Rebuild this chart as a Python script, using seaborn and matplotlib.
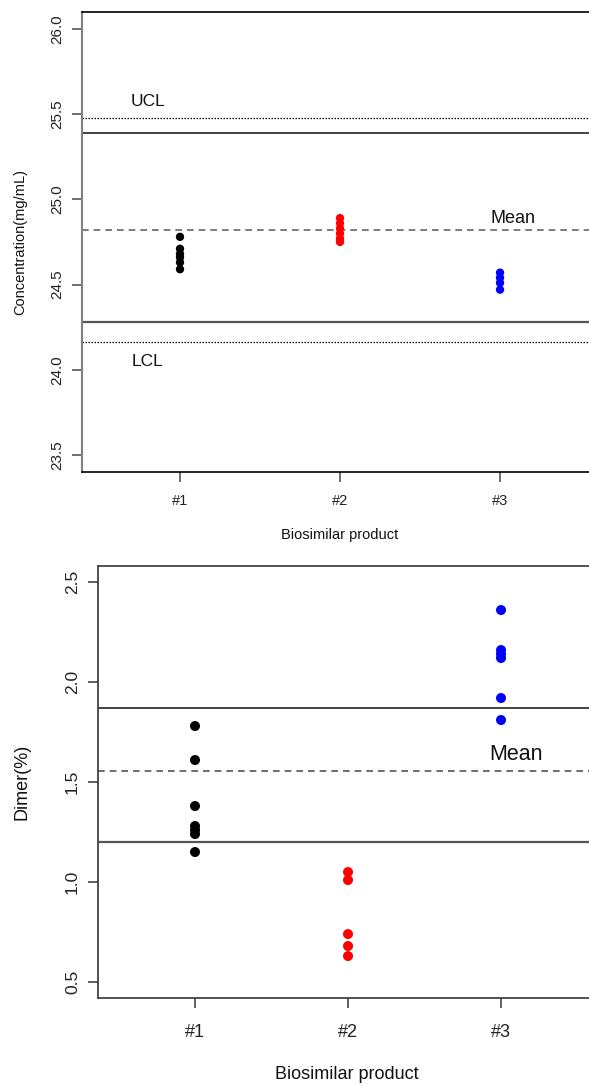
import matplotlib
matplotlib.use("Agg")
import matplotlib.pyplot as plt
import seaborn as sns
import pandas as pd

# ---- data ----
products = ["#1", "#2", "#3"]
colors = ["#000000", "#FF0000", "#0000FF"]

conc_p1 = [24.78, 24.71, 24.68, 24.66, 24.63, 24.59]
conc_p2 = [24.89, 24.86, 24.83, 24.80, 24.77, 24.75]
conc_p3 = [24.57, 24.54, 24.51, 24.47]
conc_ucl, conc_lcl = 25.476, 24.165
conc_upper, conc_lower = 25.39, 24.28
conc_mean = 24.818
conc_yticks = [23.5, 24.0, 24.5, 25.0, 25.5, 26.0]

dimer_p1 = [1.78, 1.61, 1.38, 1.28, 1.26, 1.24, 1.15]
dimer_p2 = [1.05, 1.01, 0.74, 0.68, 0.63]
dimer_p3 = [2.36, 2.16, 2.14, 2.12, 1.92, 1.81]
dimer_upper, dimer_lower = 1.868, 1.20
dimer_mean = 1.556
dimer_yticks = [0.5, 1.0, 1.5, 2.0, 2.5]


def make_df(groups):
    rows = []
    for i, (name, vals) in enumerate(zip(products, groups)):
        for v in vals:
            rows.append({"pos": i + 1, "product": name, "value": v})
    return pd.DataFrame(rows)


sns.set_style("ticks")
plt.rcParams["font.family"] = ["Liberation Sans", "DejaVu Sans"]
plt.rcParams["text.color"] = "#111111"
plt.rcParams["axes.labelcolor"] = "#111111"

fig = plt.figure(figsize=(5.89, 10.86), dpi=100)

# ---------------- top panel ----------------
ax1 = fig.add_axes([0.1392, 0.5654, 0.8608, 0.4236])
df1 = make_df([conc_p1, conc_p2, conc_p3])
sns.scatterplot(data=df1, x="pos", y="value", hue="product", palette=colors,
                s=36, linewidth=0, legend=False, ax=ax1, zorder=3)
ax1.axhline(conc_ucl, color="black", ls=(0, (1.2, 1.2)), lw=0.9)
ax1.axhline(conc_lcl, color="black", ls=(0, (1.2, 1.2)), lw=0.9)
ax1.axhline(conc_upper, color="#333333", lw=1.3)
ax1.axhline(conc_lower, color="#555555", lw=1.6)
ax1.axhline(conc_mean, color="#666666", ls=(0, (4, 3)), lw=1.2)
ax1.text(0.8, 25.575, "UCL", ha="center", va="center", fontsize=12.5)
ax1.text(0.8, 24.05, "LCL", ha="center", va="center", fontsize=12.5)
ax1.text(3.078, 24.888, "Mean", ha="center", va="center", fontsize=13)
ax1.set_xlim(0.3875, 3.556)
ax1.set_ylim(23.4, 26.1)
ax1.set_xticks([1, 2, 3])
ax1.set_xticklabels(products, fontsize=10.5)
ax1.set_yticks(conc_yticks)
ax1.set_yticklabels([f"{t:.1f}" for t in conc_yticks], fontsize=11,
                    rotation=90, va="center")
ax1.tick_params(axis="both", direction="out", length=7, width=1.2,
                color="#555555", labelcolor="#222222")
ax1.tick_params(axis="y", pad=6)
ax1.tick_params(axis="x", pad=9)
ax1.set_xlabel("Biosimilar product", fontsize=10.5, va="center")
ax1.set_ylabel("Concentration(mg/mL)", fontsize=10.5, va="center")
ax1.xaxis.set_label_coords(0.509, -0.137)
ax1.yaxis.set_label_coords(-0.1223, 0.5)
ax1.spines["right"].set_visible(False)
ax1.spines["left"].set_color("#808080")
ax1.spines["left"].set_linewidth(1.5)
ax1.spines["bottom"].set_color("#000000")
ax1.spines["bottom"].set_linewidth(1.2)
ax1.spines["top"].set_color("#000000")
ax1.spines["top"].set_linewidth(1.2)

# ---------------- bottom panel ----------------
ax2 = fig.add_axes([0.1664, 0.0810, 0.8336, 0.3978])
df2 = make_df([dimer_p1, dimer_p2, dimer_p3])
sns.scatterplot(data=df2, x="pos", y="value", hue="product", palette=colors,
                s=52, linewidth=0, legend=False, ax=ax2, zorder=3)
ax2.axhline(dimer_upper, color="#333333", lw=1.3)
ax2.axhline(dimer_lower, color="#555555", lw=1.6)
ax2.axhline(dimer_mean, color="#555555", ls=(0, (4, 3)), lw=1.2)
ax2.text(3.095, 1.64, "Mean", ha="center", va="center", fontsize=15.5)
ax2.set_xlim(0.366, 3.575)
ax2.set_ylim(0.42, 2.58)
ax2.set_xticks([1, 2, 3])
ax2.set_xticklabels(products, fontsize=13)
ax2.set_yticks(dimer_yticks)
ax2.set_yticklabels([f"{t:.1f}" for t in dimer_yticks], fontsize=12.5,
                    rotation=90, va="center")
ax2.tick_params(axis="both", direction="out", length=7, width=1.2,
                color="#444444", labelcolor="#222222")
ax2.tick_params(axis="y", pad=6)
ax2.tick_params(axis="x", pad=12)
ax2.set_xlabel("Biosimilar product", fontsize=13, va="center")
ax2.set_ylabel("Dimer(%)", fontsize=13, va="center")
ax2.xaxis.set_label_coords(0.507, -0.178)
ax2.yaxis.set_label_coords(-0.1548, 0.5)
ax2.spines["right"].set_visible(False)
for sp in ["left", "bottom", "top"]:
    ax2.spines[sp].set_color("#444444")
    ax2.spines[sp].set_linewidth(1.3)

fig.savefig("out.png", dpi=100)
